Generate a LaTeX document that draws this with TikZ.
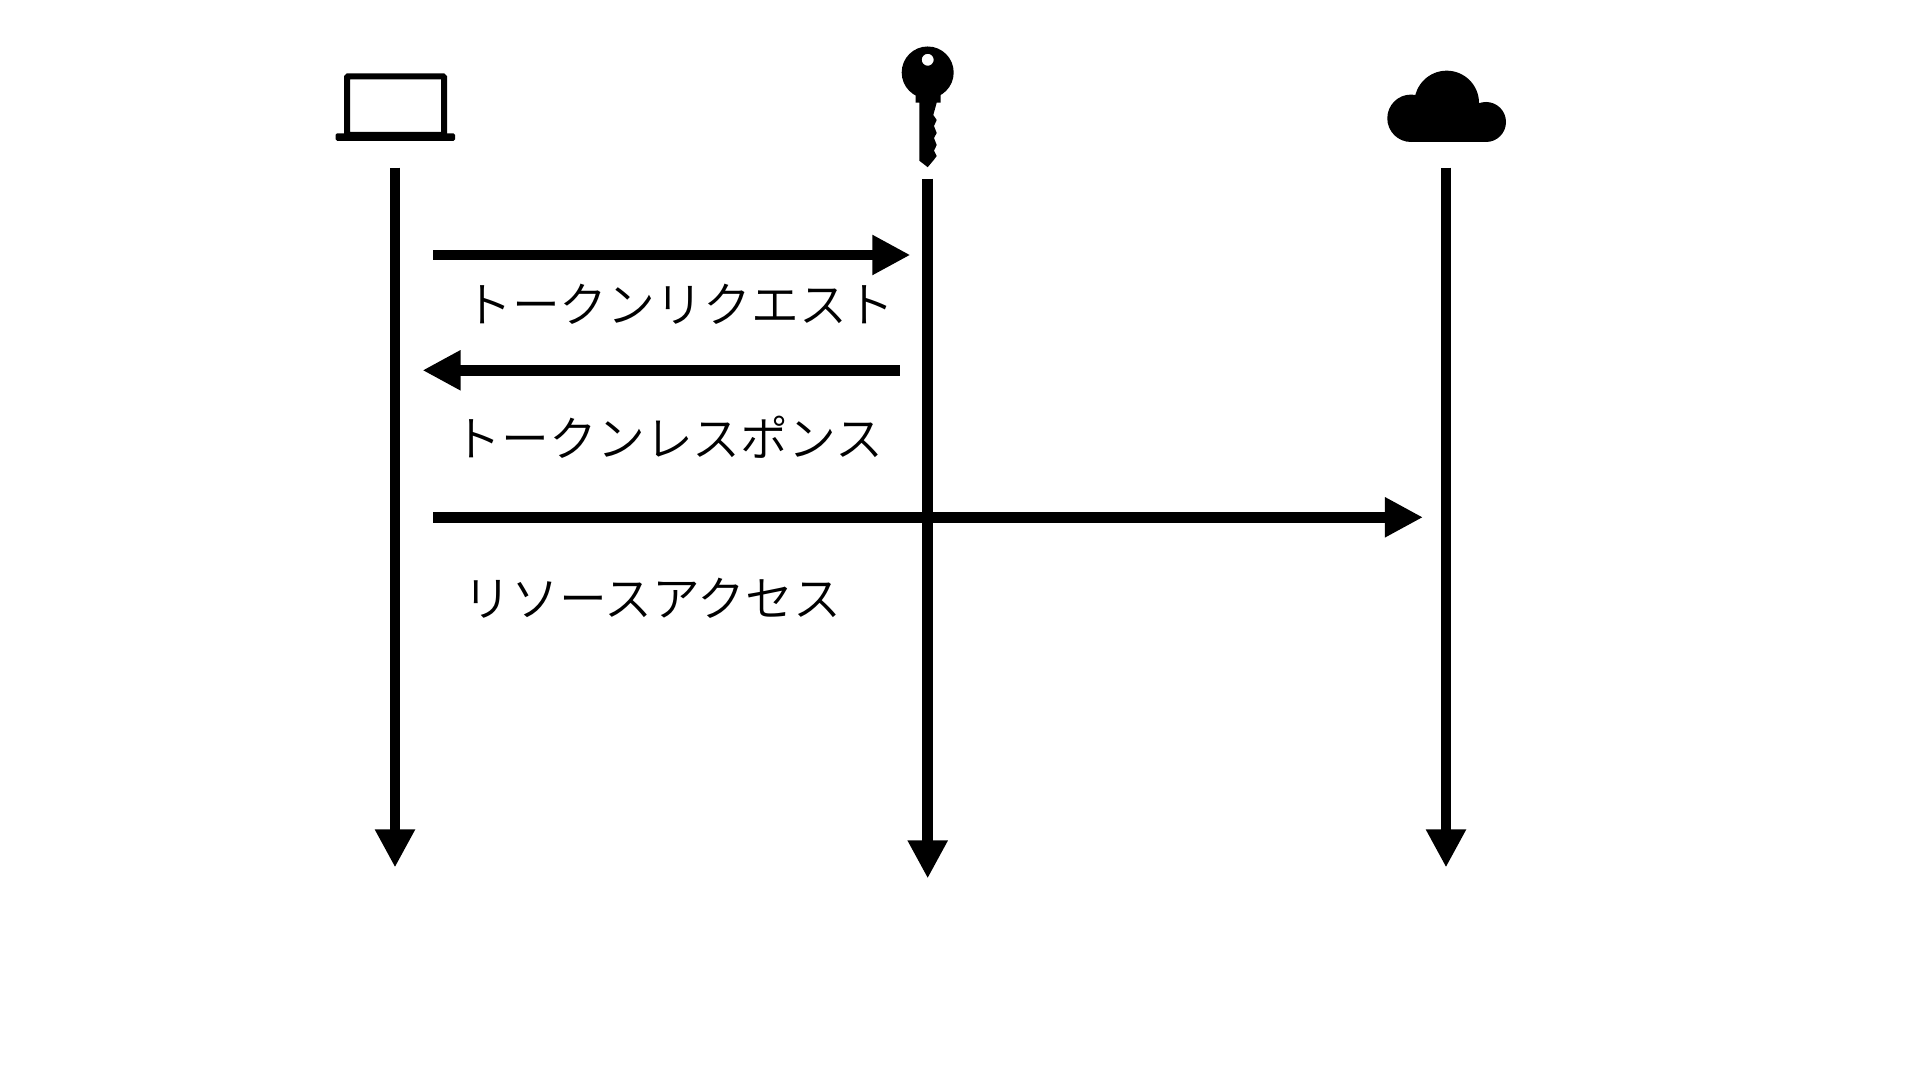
\documentclass[tikz,border=0pt]{standalone}
\usepackage{fontspec}
\newfontfamily\jpfont{Noto Sans CJK JP DemiLight}
\usetikzlibrary{arrows.meta}
\tikzset{
  flow/.style = {line width = 0.105cm, -{Triangle[length=0.38cm, width=0.375cm]}},
  msg/.style = {font=\jpfont\fontsize{13.6pt}{15pt}\selectfont, inner sep = 0pt}
}
\begin{document}
\begin{tikzpicture}[x=0.01cm, y=-0.01cm]
\useasboundingbox (0,0) rectangle (1920,1080);
\coordinate (laptopTop) at (395,167.6);
\coordinate (laptopEnd) at (395,867.5);
\coordinate (keyTop) at (927.7,178.7);
\coordinate (keyEnd) at (927.7,878.5);
\coordinate (cloudTop) at (1446,167.6);
\coordinate (cloudEnd) at (1446,867.5);
\coordinate (reqStart) at (433,255);
\coordinate (reqEnd) at (910.4,255);
\coordinate (resStart) at (899.6,370.3);
\coordinate (resEnd) at (422.5,370.3);
\coordinate (accStart) at (433,517.3);
\coordinate (accEnd) at (1423,517.3);
\draw[flow] (laptopTop) -- (laptopEnd);
\draw[flow] (keyTop) -- (keyEnd);
\draw[flow] (cloudTop) -- (cloudEnd);
\draw[flow] (reqStart) -- (reqEnd);
\draw[flow] (resStart) -- (resEnd);
\draw[flow] (accStart) -- (accEnd);
\node[msg](reqLabel) at (679.5,304) {トークンリクエスト};
\node[msg](resLabel) at (668.5,437) {トークンレスポンス};
\node[msg](accLabel) at (652.5,598.5) {リソースアクセス};
% laptop
\draw[line width = 0.06cm, rounded corners = 0.01cm] (347,76.5) rectangle (444,135);
\fill[rounded corners = 0.015cm] (335.7,133.3) rectangle (455,140.8);
% key
\fill[even odd rule] (927.7,72.5) circle[radius=0.26cm] (927.7,59.8) circle[radius=0.06cm];
\fill (915.7,92) -- (915.7,102.7) -- (919.3,102.7) -- (919.3,160.7) -- (927.7,167.2) -- (934,159.7) -- (936.7,156) -- (934,150.7) -- (936.7,145) -- (934,138) -- (936.7,133) -- (934,126) -- (936.7,120) -- (933.3,115) -- (936.7,102.7) -- (940.7,102.7) -- (940.7,92) -- cycle;
% cloud
\fill (1411,118.3) circle[radius=0.237cm] (1446.7,103) circle[radius=0.323cm] (1486,122) circle[radius=0.2cm];
\fill (1411,142) rectangle (1486,110);
\end{tikzpicture}
\end{document}
